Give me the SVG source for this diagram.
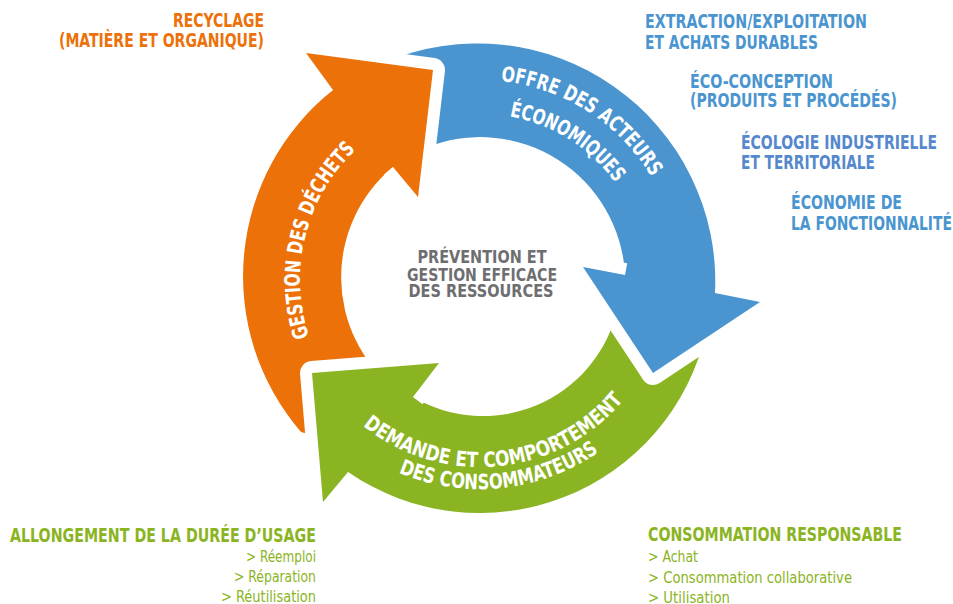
<svg xmlns="http://www.w3.org/2000/svg" width="953" height="604" viewBox="0 0 953 604">
<style>
text{font-family:"Liberation Sans Narrow","DejaVu Sans Condensed","Liberation Sans",sans-serif;}
.h{font-size:19.5px;font-weight:bold;}
.s{font-size:15px;}
.or{fill:#EC7109;} .bl{fill:#4A95CF;} .gr{fill:#8AB422;} .gy{fill:#6E6E70;}
.a{font-size:21px;font-weight:bold;fill:#FFFFFF;}
.halo{fill:none;stroke:#FFFFFF;stroke-width:24;stroke-linejoin:round;stroke-linecap:butt;}
</style>
<defs>
<path id="tpO" d="M342.1,395.7 A180,180 0 0 1 412.6,113.1"/>
<path id="tpB1" d="M387.7,102.6 A200,200 0 0 1 679.8,288.7"/>
<path id="tpB2" d="M402.9,132.6 A167,167 0 0 1 646.9,286.1"/>
<path id="tpG1" d="M311.4,360.9 A187,187 0 0 0 661.2,326.4"/>
<path id="tpG2" d="M291.9,371.2 A209,209 0 0 0 682.7,331.1"/>
</defs>
<rect width="953" height="604" fill="#FFFFFF"/>
<g id="connectors">
<path class="bl" d="M385,62 A238,238 0 0 1 715,293 L760,302 L653,373 L583,267 L625,275 A145,145 0 0 0 425,148 Z"/>
<path class="gr" d="M706,332 A232,232 0 0 1 348,472 L323,502 L312,373 L439,363 L413,397 A138,138 0 0 0 617,311 Z"/>
<path class="or" d="M301,432 A238,238 0 0 1 333,90 L306,53 L433,70 L418,197 L393,167 A143,143 0 0 0 395,389 L330,440 Z"/>
</g>
<g id="node-offre">
<path class="halo" d="M715,293 L760,302 L653,373 L583,267 L625,275"/>
<path class="bl" d="M715,293 L760,302 L653,373 L583,267 L625,275 Z"/>
<text class="a"><textPath href="#tpB1" startOffset="50%" text-anchor="middle" textLength="185" lengthAdjust="spacingAndGlyphs">OFFRE DES ACTEURS</textPath></text>
<text class="a"><textPath href="#tpB2" startOffset="50%" text-anchor="middle" textLength="128" lengthAdjust="spacingAndGlyphs">ÉCONOMIQUES</textPath></text>
</g>
<g id="node-demande">
<path class="halo" d="M348,472 L323,502 L312,373 L439,363 L413,397"/>
<path class="gr" d="M348,472 L323,502 L312,373 L439,363 L413,397 Z"/>
<text class="a"><textPath href="#tpG1" startOffset="50%" text-anchor="middle" textLength="290" lengthAdjust="spacingAndGlyphs">DEMANDE ET COMPORTEMENT</textPath></text>
<text class="a"><textPath href="#tpG2" startOffset="50%" text-anchor="middle" textLength="210" lengthAdjust="spacingAndGlyphs">DES CONSOMMATEURS</textPath></text>
</g>
<g id="node-gestion">
<path class="halo" d="M333,90 L306,53 L433,70 L418,197 L393,167"/>
<path class="or" d="M333,90 L306,53 L433,70 L418,197 L393,167 Z"/>
<text class="a"><textPath href="#tpO" startOffset="50%" text-anchor="middle" textLength="203" lengthAdjust="spacingAndGlyphs">GESTION DES DÉCHETS</textPath></text>
</g>
<g id="node-centre">
<text class="h gy" x="482" y="263" text-anchor="middle" textLength="129" lengthAdjust="spacingAndGlyphs" style="font-size:18px">PRÉVENTION ET</text>
<text class="h gy" x="482" y="280.5" text-anchor="middle" textLength="150" lengthAdjust="spacingAndGlyphs" style="font-size:18px">GESTION EFFICACE</text>
<text class="h gy" x="481" y="297" text-anchor="middle" textLength="145" lengthAdjust="spacingAndGlyphs" style="font-size:18px">DES RESSOURCES</text>
</g>
<g id="node-recyclage">
<text class="h or" x="264" y="27" text-anchor="end" textLength="91" lengthAdjust="spacingAndGlyphs">RECYCLAGE</text>
<text class="h or" x="264" y="47" text-anchor="end" textLength="205" lengthAdjust="spacingAndGlyphs">(MATIÈRE ET ORGANIQUE)</text>
</g>
<g id="node-offre-labels">
<text class="h bl" x="645" y="28" textLength="222" lengthAdjust="spacingAndGlyphs">EXTRACTION/EXPLOITATION</text>
<text class="h bl" x="645" y="48.5" textLength="173" lengthAdjust="spacingAndGlyphs">ET ACHATS DURABLES</text>
<text class="h bl" x="690" y="88" textLength="143" lengthAdjust="spacingAndGlyphs">ÉCO-CONCEPTION</text>
<text class="h bl" x="690" y="107" textLength="207" lengthAdjust="spacingAndGlyphs">(PRODUITS ET PROCÉDÉS)</text>
<text class="h" x="741" y="148.5" textLength="196" lengthAdjust="spacingAndGlyphs" fill="#5588CC">ÉCOLOGIE INDUSTRIELLE</text>
<text class="h" x="741" y="168.5" textLength="134" lengthAdjust="spacingAndGlyphs" fill="#5588CC">ET TERRITORIALE</text>
<text class="h bl" x="791" y="208.5" textLength="111" lengthAdjust="spacingAndGlyphs">ÉCONOMIE DE</text>
<text class="h bl" x="791" y="229.5" textLength="161" lengthAdjust="spacingAndGlyphs">LA FONCTIONNALITÉ</text>
</g>
<g id="node-allongement">
<text class="h gr" x="316" y="542" text-anchor="end" textLength="306" lengthAdjust="spacingAndGlyphs">ALLONGEMENT DE LA DURÉE D’USAGE</text>
<text class="s gr" x="316" y="562" text-anchor="end" textLength="70" lengthAdjust="spacingAndGlyphs">&gt; Réemploi</text>
<text class="s gr" x="316" y="582" text-anchor="end" textLength="82" lengthAdjust="spacingAndGlyphs">&gt; Réparation</text>
<text class="s gr" x="316" y="602" text-anchor="end" textLength="95" lengthAdjust="spacingAndGlyphs">&gt; Réutilisation</text>
</g>
<g id="node-consommation">
<text class="h gr" x="648" y="541" textLength="254" lengthAdjust="spacingAndGlyphs">CONSOMMATION RESPONSABLE</text>
<text class="s gr" x="648" y="562" textLength="50" lengthAdjust="spacingAndGlyphs">&gt; Achat</text>
<text class="s gr" x="648" y="583" textLength="204" lengthAdjust="spacingAndGlyphs">&gt; Consommation collaborative</text>
<text class="s gr" x="648" y="603" textLength="82" lengthAdjust="spacingAndGlyphs">&gt; Utilisation</text>
</g>
</svg>
